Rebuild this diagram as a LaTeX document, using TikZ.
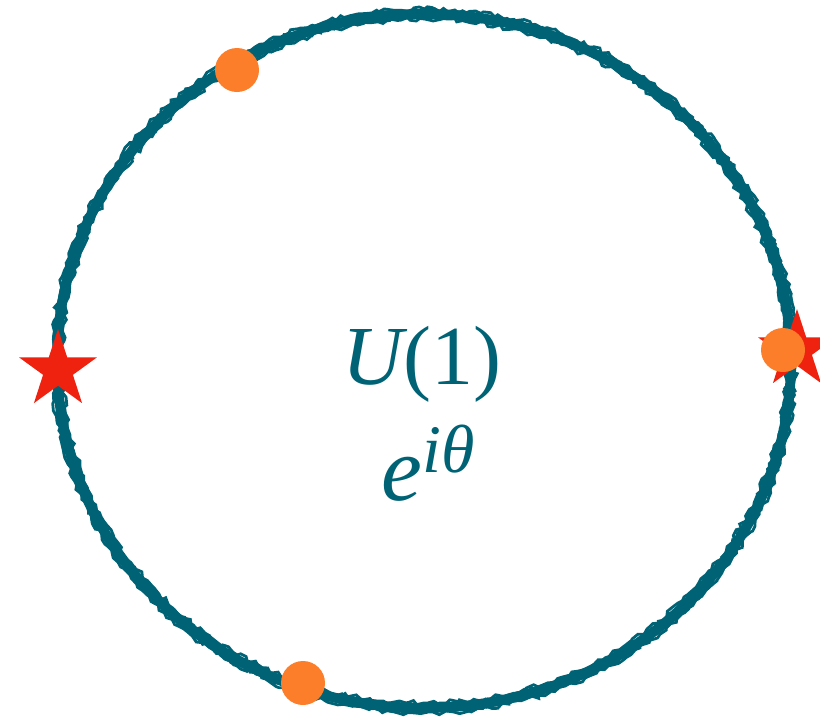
\documentclass[tikz,border=0pt]{standalone}
\usepackage{fontspec}
\newfontfamily\labelfont{Liberation Serif}
\usetikzlibrary{shapes.geometric, decorations.pathmorphing}
\definecolor{ringteal}{RGB}{0,99,117}
\definecolor{starred}{RGB}{238,34,14}
\definecolor{dotorange}{RGB}{252,125,42}

\begin{document}
\begin{tikzpicture}[
  x=0.5pt, y=-0.5pt,
  ring/.style={draw=ringteal, line width=5pt},
  roughring/.style={draw=ringteal, line width=1.4pt, decorate,
                    decoration={random steps, segment length=2.5pt, amplitude=1.2pt}},
  redstar/.style={star, star points=5, star point ratio=2.618, fill=starred,
                  minimum size=41pt, inner sep=0pt},
  spot/.style={circle, fill=dotorange, minimum size=22pt, inner sep=0pt},
  grouplabel/.style={text=ringteal, inner sep=0pt, anchor=base, font=\labelfont},
]
\useasboundingbox (0,0) rectangle (820,718);
\clip (0,0) rectangle (820,718);

% brushed ring
\pgfmathsetseed{7}
\draw[ring] (424,361) ellipse [x radius=367, y radius=347];
\foreach \dr in {-5, 5, -3, 3}
  \draw[roughring] (424,361) ellipse [x radius=367+\dr, y radius=347+\dr];

% marks on the ring
\node[redstar] (starL) at (58,370) {};
\node[redstar] (starR) at (797,350) {};
\node[spot] (dotT) at (237,70) {};
\node[spot] (dotR) at (783,350) {};
\node[spot] (dotB) at (303,683) {};

% labels
\node[grouplabel] (group) at (422,384)
  {\fontsize{42}{48}\selectfont\itshape U\upshape(1)};
\node[grouplabel] (phase) at (428,500)
  {\fontsize{46}{50}\selectfont\itshape e\raisebox{14pt}{\fontsize{34}{36}\selectfont iθ}};
\end{tikzpicture}
\end{document}
